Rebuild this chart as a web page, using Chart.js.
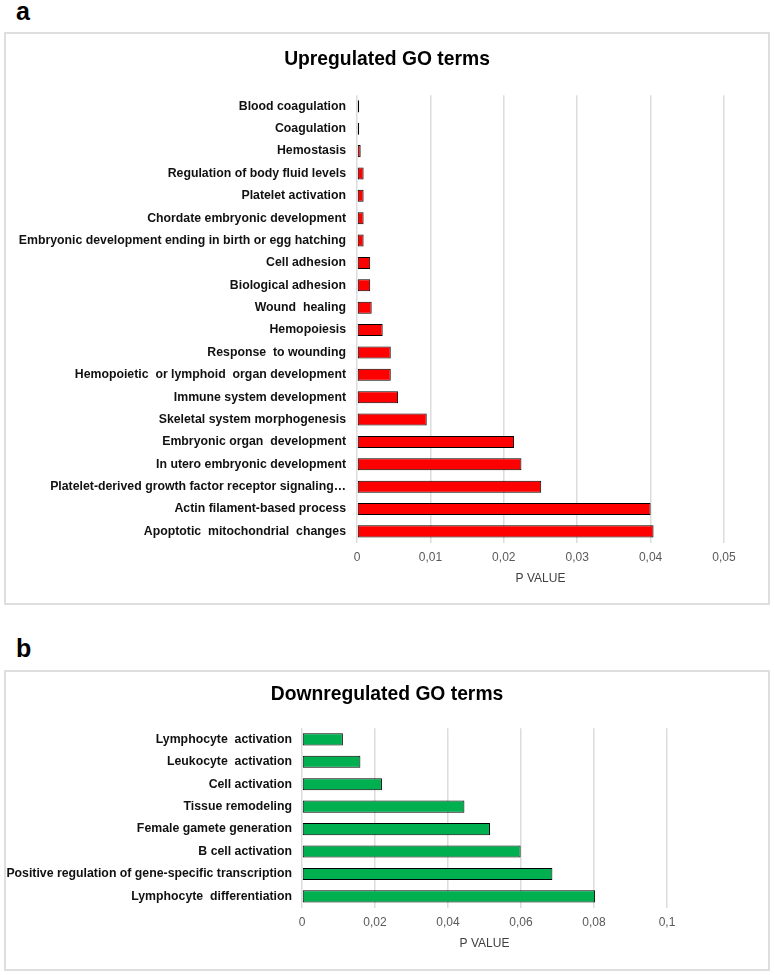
<!DOCTYPE html>
<html>
<head>
<meta charset="utf-8">
<script src="https://cdn.jsdelivr.net/npm/chart.js@4"></script>
<style>
  body { margin: 0; width: 774px; height: 975px; background: #fff; position: relative; font-family: "Liberation Sans", Arial, sans-serif; }
  .panel-letter { position: absolute; font-weight: bold; font-size: 25px; color: #000; line-height: 1; }
  .box { position: absolute; left: 4px; width: 762px; border: 2px solid #dedede; }
  canvas { display: block; }
</style>
</head>
<body>
<div class="panel-letter" style="left:16px; top:-1px;">a</div>
<div class="box" style="top:32px; height:569px;"><canvas id="up-chart" width="762" height="569"></canvas></div>
<div class="panel-letter" style="left:16px; top:636px;">b</div>
<div class="box" style="top:670px; height:297px;"><canvas id="down-chart" width="762" height="297"></canvas></div>

<script>
// Upregulated GO terms (panel a)
const upLabels = [
    'Blood coagulation',
    'Coagulation',
    'Hemostasis',
    'Regulation of body fluid levels',
    'Platelet activation',
    'Chordate embryonic development',
    'Embryonic development ending in birth or egg hatching',
    'Cell adhesion',
    'Biological adhesion',
    'Wound  healing',
    'Hemopoiesis',
    'Response  to wounding',
    'Hemopoietic  or lymphoid  organ development',
    'Immune system development',
    'Skeletal system morphogenesis',
    'Embryonic organ  development',
    'In utero embryonic development',
    'Platelet-derived growth factor receptor signaling…',
    'Actin filament-based process',
    'Apoptotic  mitochondrial  changes'
];
const upValues = [
    0.0003, 0.0003, 0.0005, 0.0009, 0.0009, 0.0009, 0.0009, 0.0018, 0.0018, 0.002,
    0.0035, 0.0046, 0.0046, 0.0056, 0.0095, 0.0214, 0.0224, 0.0251, 0.0400, 0.0404
];
const upTicks = [0, 0.01, 0.02, 0.03, 0.04, 0.05];

// Downregulated GO terms (panel b)
const downLabels = [
    'Lymphocyte  activation',
    'Leukocyte  activation',
    'Cell activation',
    'Tissue remodeling',
    'Female gamete generation',
    'B cell activation',
    'Positive regulation of gene-specific transcription',
    'Lymphocyte  differentiation'
];
const downValues = [0.0112, 0.016, 0.0219, 0.0445, 0.0515, 0.0599, 0.0686, 0.0803];
const downTicks = [0, 0.02, 0.04, 0.06, 0.08, 0.1];

const FONT = '"Liberation Sans", Arial, sans-serif';

// 0.01 -> "0,01"
function formatTick(value) {
    return String(+value.toFixed(3)).replace('.', ',');
}

/**
 * Горизонтальная диаграмма p-значений
 */
function makeChart(canvasId, cfg) {
    const ctx = document.getElementById(canvasId).getContext('2d');
    return new Chart(ctx, {
        type: 'bar',
        data: {
            labels: cfg.labels,
            datasets: [{
                data: cfg.values,
                backgroundColor: cfg.color,
                borderColor: '#000',
                borderWidth: 1,
                borderSkipped: false,
                barPercentage: 0.54,
                categoryPercentage: 1
            }]
        },
        options: {
            indexAxis: 'y',
            responsive: false,
            animation: false,
            devicePixelRatio: 1,
            layout: {
                padding: { left: 0, right: 0, top: 0, bottom: cfg.padBottom }
            },
            plugins: {
                legend: { display: false },
                tooltip: { enabled: false },
                title: {
                    display: true,
                    text: cfg.title,
                    color: '#000',
                    font: { family: FONT, size: 19.3, weight: 'bold' },
                    padding: { top: cfg.titleTop, bottom: cfg.titleBottom }
                }
            },
            scales: {
                x: {
                    min: 0,
                    max: cfg.ticks[cfg.ticks.length - 1],
                    afterBuildTicks: function(scale) {
                        scale.ticks = cfg.ticks.map(v => ({ value: v }));
                    },
                    grid: { color: '#dcdcdc', lineWidth: 1.5, drawTicks: false },
                    border: { display: false },
                    ticks: {
                        padding: 8,
                        color: '#595959',
                        font: { family: FONT, size: 12 },
                        callback: function(value) { return formatTick(value); }
                    },
                    title: {
                        display: true,
                        text: 'P VALUE',
                        color: '#404040',
                        font: { family: FONT, size: 12, lineHeight: 1 },
                        padding: { top: 0, bottom: 0 }
                    }
                },
                y: {
                    grid: { display: false, drawTicks: false },
                    border: { display: false },
                    afterFit: function(scale) {
                        scale.width = cfg.axisWidth;
                    },
                    ticks: {
                        padding: cfg.labelPad,
                        color: '#111',
                        autoSkip: false,
                        font: { family: FONT, size: 12.3, weight: 'bold' }
                    }
                },
                // пустая правая ось — только отступ справа, чтобы заголовок был по центру
                yRight: {
                    type: 'category',
                    axis: 'y',
                    position: 'right',
                    grid: { display: false, drawTicks: false },
                    border: { display: false },
                    ticks: { display: false },
                    afterFit: function(scale) {
                        scale.width = cfg.rightSpace;
                    }
                }
            }
        }
    });
}

makeChart('up-chart', {
    title: 'Upregulated GO terms',
    labels: upLabels,
    values: upValues,
    ticks: upTicks,
    color: '#ff0000',
    axisWidth: 351,
    rightSpace: 44,
    padBottom: 18,
    titleTop: 14,
    titleBottom: 24,
    labelPad: 11
});

makeChart('down-chart', {
    title: 'Downregulated GO terms',
    labels: downLabels,
    values: downValues,
    ticks: downTicks,
    color: '#00b050',
    axisWidth: 296,
    rightSpace: 101,
    padBottom: 19,
    titleTop: 11,
    titleBottom: 22,
    labelPad: 10
});
</script>
</body>
</html>
